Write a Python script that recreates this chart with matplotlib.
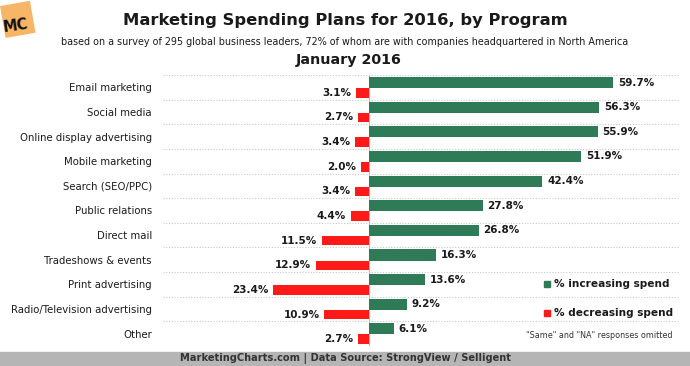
import matplotlib
matplotlib.use("Agg")
import matplotlib.pyplot as plt
from matplotlib.patches import Rectangle
import matplotlib.transforms as mtransforms
import numpy as np

categories = ["Email marketing", "Social media", "Online display advertising",
              "Mobile marketing", "Search (SEO/PPC)", "Public relations",
              "Direct mail", "Tradeshows & events", "Print advertising",
              "Radio/Television advertising", "Other"]
increasing = [59.7, 56.3, 55.9, 51.9, 42.4, 27.8, 26.8, 16.3, 13.6, 9.2, 6.1]
decreasing = [3.1, 2.7, 3.4, 2.0, 3.4, 4.4, 11.5, 12.9, 23.4, 10.9, 2.7]

GREEN = "#2f7a57"
RED = "#ff1a1a"
TXT = "#1a1a1a"

plt.rcParams['font.family'] = ['DejaVu Sans']
fig = plt.figure(figsize=(6.9, 3.66), dpi=100)
fig.patch.set_facecolor("white")

W, H = 690, 366
def fx(px):
    return px / W
def fy(py):
    return 1 - py / H

ax_left, ax_right = 163, 680
ax_top, ax_bot = 75, 346
ax = fig.add_axes([fx(ax_left), fy(ax_bot), fx(ax_right - ax_left), (ax_bot - ax_top) / H])

n = len(categories)
y = np.arange(n)
ax.barh(y - 0.195, increasing, height=0.45, color=GREEN, edgecolor="none")
ax.barh(y + 0.225, [-d for d in decreasing], height=0.39, color=RED, edgecolor="none")

px_per = 4.09
xmin = -(369 - ax_left) / px_per
xmax = (ax_right - 369) / px_per
ax.set_xlim(xmin, xmax)
ax.set_ylim(n - 0.5, -0.5)

for i in range(n + 1):
    ax.axhline(i - 0.5, color="#c8c8c8", lw=0.8, ls=(0, (1, 1.5)), zorder=0)
ax.axvline(0, color="#bbbbbb", lw=0.8, zorder=0)

for i, v in enumerate(increasing):
    ax.text(v + 1.2, i - 0.195, f"{v:.1f}%", va="center", ha="left",
            fontsize=7.5, fontweight="bold", color=TXT)
for i, v in enumerate(decreasing):
    ax.text(-v - 1.2, i + 0.225, f"{v:.1f}%", va="center", ha="right",
            fontsize=7.5, fontweight="bold", color=TXT)

ax.set_yticks(y)
ax.set_yticklabels(categories, fontsize=7.3, color=TXT)
ax.tick_params(axis="y", length=0, pad=8)
ax.set_xticks([])
for s in ax.spines.values():
    s.set_visible(False)

# legend
fig.patches.append(Rectangle((fx(544), fy(287)), fx(6), 6 / H, color=GREEN, transform=fig.transFigure))
fig.text(fx(554), fy(284), "% increasing spend", fontsize=7.6, fontweight="bold", color=TXT, va="center", ha="left")
fig.patches.append(Rectangle((fx(544), fy(316)), fx(6), 6 / H, color=RED, transform=fig.transFigure))
fig.text(fx(554), fy(313), "% decreasing spend", fontsize=7.6, fontweight="bold", color=TXT, va="center", ha="left")
fig.text(fx(672), fy(335), "\"Same\" and \"NA\" responses omitted", fontsize=5.8, color="#333333", va="center", ha="right")

# titles
fig.text(fx(345), fy(21), "Marketing Spending Plans for 2016, by Program", fontsize=11.8,
         fontweight="bold", color=TXT, ha="center", va="center")
fig.text(fx(345), fy(42), "based on a survey of 295 global business leaders, 72% of whom are with companies headquartered in North America",
         fontsize=6.9, color=TXT, ha="center", va="center")
fig.text(fx(349), fy(60), "January 2016", fontsize=10.3, fontweight="bold", color=TXT, ha="center", va="center")

# footer band
fig.patches.append(Rectangle((0, 0), 1, 14 / H, color="#b5b5b5", transform=fig.transFigure, zorder=0))
fig.text(fx(345), 7 / H, "MarketingCharts.com | Data Source: StrongView / Selligent", fontsize=7.1,
         fontweight="bold", color="#333333", ha="center", va="center")

# MC logo
logo_ax = fig.add_axes([0, fy(40), fx(40), 40 / H])
logo_ax.set_xlim(0, 40)
logo_ax.set_ylim(40, 0)
logo_ax.axis("off")
rect = Rectangle((3, 4), 29, 31, color="#f6b567")
tr = mtransforms.Affine2D().rotate_deg_around(17, 18, -10) + logo_ax.transData
rect.set_transform(tr)
logo_ax.add_patch(rect)
logo_ax.text(16, 26, "MC", fontsize=10.5, fontweight="bold", color="#111111", ha="center", va="center", rotation=8)

fig.savefig("out.png", dpi=100)
